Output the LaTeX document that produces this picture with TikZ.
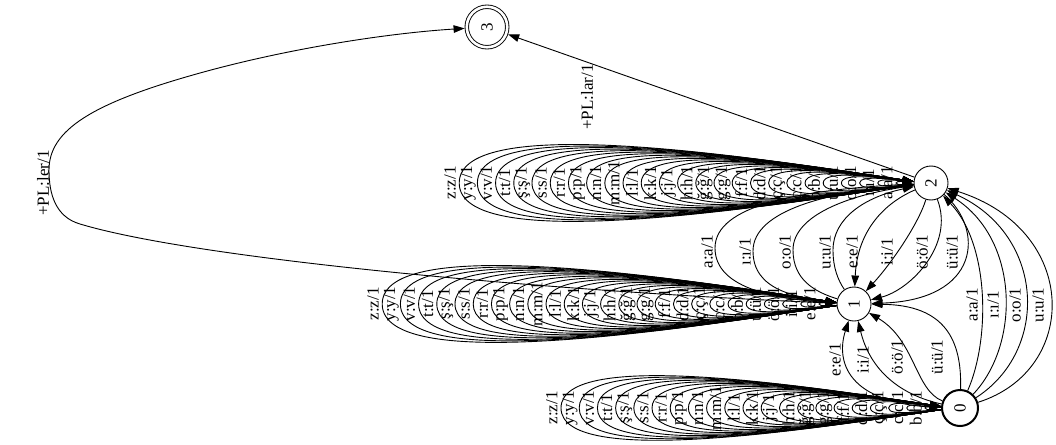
\documentclass[tikz,border=0pt]{standalone}
\usepackage{fontspec}
\setmainfont{Liberation Serif}
\usetikzlibrary{arrows.meta}
\tikzset{
  st/.style={circle, draw, line width=0.9pt, minimum size=34pt, inner sep=0pt, font=\fontsize{17}{17}\selectfont},
  lab/.style={rotate=90, font=\fontsize{17}{19}\selectfont, inner sep=0pt},
  edge/.style={-{Triangle[length=11pt,width=7.6pt]}, line width=0.9pt},
}
\begin{document}
\begin{tikzpicture}[x=1pt,y=-1pt]
\useasboundingbox (0,0) rectangle (1056,444);
\node[st, minimum size=36pt, line width=2pt] (n0) at (960,408) {\rotatebox{90}{0}};
\node[st] (n1) at (854,304) {\rotatebox{90}{1}};
\node[st] (n2) at (931,183) {\rotatebox{90}{2}};
\node[st, minimum size=40.5pt, double, double distance=2.6pt, outer sep=2.2pt] (n3) at (487,27) {\rotatebox{90}{3}};

% self loops of 0
\foreach \lt [count=\idx] in {b,c,ç,d,f,g,ğ,h,j,k,l,m,n,p,r,s,ş,t,v,y,z}{
  \pgfmathsetmacro\dx{35+(\idx-1)*18.2}
  \pgfmathsetmacro\ty{2.9*\idx}
  \pgfmathsetmacro\ax{960-18-(\dx-18)/3}
  \pgfmathsetmacro\bx{960-\dx}
  \draw[edge] (n0.185) .. controls (\ax,{408+\ty/3}) and (\bx,{408+\ty}) .. (\bx,408) .. controls (\bx,{408-\ty}) and (\ax,{408-\ty/3}) .. (n0.175);
  \node[lab] (a\idx) at ({\bx-9.1},408) {\lt:\lt/1};
}
% self loops of 1
\foreach \lt [count=\idx] in {e,i,ö,ü,b,c,ç,d,f,g,ğ,h,j,k,l,m,n,p,r,s,ş,t,v,y,z}{
  \pgfmathsetmacro\dx{35+(\idx-1)*18.2}
  \pgfmathsetmacro\ty{2.9*\idx}
  \pgfmathsetmacro\ax{854-17-(\dx-17)/3}
  \pgfmathsetmacro\bx{854-\dx}
  \draw[edge] (n1.185) .. controls (\ax,{304+\ty/3}) and (\bx,{304+\ty}) .. (\bx,304) .. controls (\bx,{304-\ty}) and (\ax,{304-\ty/3}) .. (n1.175);
  \node[lab] (b\idx) at ({\bx-9.1},304) {\lt:\lt/1};
}
% self loops of 2
\foreach \lt [count=\idx] in {a,ı,o,u,b,c,ç,d,f,g,ğ,h,j,k,l,m,n,p,r,s,ş,t,v,y,z}{
  \pgfmathsetmacro\dx{35+(\idx-1)*18.2}
  \pgfmathsetmacro\ty{2.9*\idx}
  \pgfmathsetmacro\ax{931-17-(\dx-17)/3}
  \pgfmathsetmacro\bx{931-\dx}
  \draw[edge] (n2.185) .. controls (\ax,{183+\ty/3}) and (\bx,{183+\ty}) .. (\bx,183) .. controls (\bx,{183-\ty}) and (\ax,{183-\ty/3}) .. (n2.175);
  \node[lab] (c\idx) at ({\bx-9.1},183) {\lt:\lt/1};
}

% 0 -> 1
\draw[edge] (n0) .. controls (845,405) and (836,360) .. (n1);
\draw[edge] (n0) .. controls (900,395) and (870,370) .. (n1);
\draw[edge] (n0) .. controls (915,390) and (915,340) .. (n1);
\draw[edge] (n0) .. controls (962,340) and (945,305) .. (n1);
\node[lab] (l01e) at (835,360) {e:e/1};
\node[lab] (l01i) at (863,360) {i:i/1};
\node[lab] (l01o) at (897,357) {ö:ö/1};
\node[lab] (l01u) at (937,357) {ü:ü/1};

% 0 -> 2
\draw[edge] (n0) .. controls (990,340) and (990,245) .. (n2);
\draw[edge] (n0) .. controls (1020,345) and (1020,240) .. (n2);
\draw[edge] (n0) .. controls (1050,350) and (1045,235) .. (n2);
\draw[edge] (n0) .. controls (1080,370) and (1080,230) .. (n2);
\node[lab] (l02a) at (972,305) {a:a/1};
\node[lab] (l02i) at (993,305) {ı:ı/1};
\node[lab] (l02o) at (1015,305) {o:o/1};
\node[lab] (l02u) at (1038,305) {u:u/1};

% 2 -> 1
\draw[edge] (n2) .. controls (880,205) and (857,235) .. (n1);
\draw[edge] (n2) .. controls (918,225) and (890,265) .. (n1);
\draw[edge] (n2) .. controls (955,245) and (910,290) .. (n1);
\draw[edge] (n2) .. controls (985,230) and (980,300) .. (n1);
\node[lab] (l21e) at (852,252) {e:e/1};
\node[lab] (l21i) at (887,252) {i:i/1};
\node[lab] (l21o) at (922,252) {ö:ö/1};
\node[lab] (l21u) at (952,252) {ü:ü/1};

% 1 -> 2
\draw[edge] (n1) .. controls (780,300) and (715,290) .. (715,248) .. controls (715,205) and (800,190) .. (n2);
\draw[edge] (n1) .. controls (795,298) and (753,290) .. (753,251) .. controls (753,210) and (830,192) .. (n2);
\draw[edge] (n1) .. controls (815,292) and (793,280) .. (793,250) .. controls (793,215) and (850,195) .. (n2);
\draw[edge] (n1) .. controls (838,280) and (833,268) .. (833,250) .. controls (833,218) and (865,197) .. (n2);
\node[lab] (l12a) at (707,252) {a:a/1};
\node[lab] (l12i) at (745,252) {ı:ı/1};
\node[lab] (l12o) at (785,252) {o:o/1};
\node[lab] (l12u) at (825,252) {u:u/1};

% to 3
\draw[edge] (n2) -- (n3);
\node[lab] (l23) at (587,97) {+PL:lar/1};
\draw[edge] (n1) .. controls (560,292) and (200,260) .. (80,224) .. controls (56,217) and (49,195) .. (49,170) .. controls (49,130) and (92,103) .. (200,73) .. controls (290,48) and (390,33) .. (n3);
\node[lab] (l13) at (43,183) {+PL:ler/1};
\end{tikzpicture}
\end{document}
